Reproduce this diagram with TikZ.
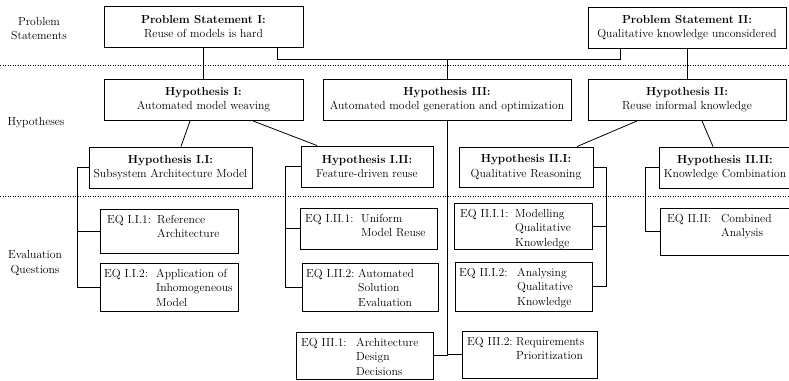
\documentclass[tikz,border=0pt]{standalone}
\usepackage{fontspec}
\usetikzlibrary{calc}

\tikzset{
  box/.style={draw, line width=0.9pt, inner sep=0pt, align=center},
  conn/.style={line width=0.8pt},
  sepline/.style={line width=0.7pt, dash pattern=on 0.9pt off 1.6pt},
  lbl/.style={inner sep=0pt, anchor=base west},
  side/.style={align=center, inner sep=0pt},
}

% framed box given by its corners: name, x1, y1, x2, y2, text
\newcommand\hypnode[6]{%
  \node[box, minimum width={#4-#2}, minimum height={#5-#3}] (#1)
    at ({(#2+#4)/2},{(#3+#5)/2}) {#6};}

% evaluation question: name, x1, y1, x2, y2, id offset, id, text offset, text
\newcommand\eqnode[9]{%
  \node[box, minimum width={#4-#2}, minimum height={#5-#3}] (#1)
    at ({(#2+#4)/2},{(#3+#5)/2}) {};
  \node[lbl] (#1-id) at ({#2+#6},{#3+14}) {#7};
  \node[lbl] (#1-txt) at ({#2+#8},{#3+14})
    {\begin{tabular}[t]{@{}l@{}}#9\end{tabular}};}

\begin{document}
\begin{tikzpicture}[x=1pt, y=-1pt, font=\fontsize{11.65}{14.5}\selectfont]
\path[use as bounding box, clip] (0,0) rectangle (789,380);

% level labels
\node[side] (lps) at (39,28.5) {Problem\\Statements};
\node[side] (lhy) at (36,123) {Hypotheses};
\node[side] (leq) at (35,263) {Evaluation\\Questions};

% level separators
\draw[sepline] (0,65.5) -- (789,65.5);
\draw[sepline] (0,196) -- (789,196);

% problem statements
\hypnode{psI}{104}{6}{303}{47}{\textbf{Problem Statement I:}\\Reuse of models is hard}
\hypnode{psII}{588}{7}{786}{48}{\textbf{Problem Statement II:}\\Qualitative knowledge unconsidered}

% hypotheses
\hypnode{hI}{104}{79}{303}{120.5}{\textbf{Hypothesis I:}\\Automated model weaving}
\hypnode{hIII}{323}{79}{571}{120.5}{\textbf{Hypothesis III:}\\Automated model generation and optimization}
\hypnode{hII}{588}{79}{786}{120.5}{\textbf{Hypothesis II:}\\Reuse informal knowledge}

\hypnode{hIi}{89}{147}{252}{188}{\textbf{Hypothesis I.I:}\\Subsystem Architecture Model}
\hypnode{hIii}{301}{146}{433}{187}{\textbf{Hypothesis I.II:}\\Feature-driven reuse}
\hypnode{hIIi}{459}{147}{593}{187}{\textbf{Hypothesis II.I:}\\Qualitative Reasoning}
\hypnode{hIIii}{659}{147}{791}{188}{\textbf{Hypothesis II.II:}\\Knowledge Combination}

% evaluation questions
\eqnode{eIi1}{100}{209}{238}{253}{7}{EQ I.I.1:}{57}{Reference\\Architecture}
\eqnode{eIi2}{100}{263}{238}{311}{4}{EQ I.I.2:}{56}{Application of\\Inhomogeneous\\Model}
\eqnode{eIii1}{300}{208}{437}{249}{5}{EQ I.II.1:}{61}{Uniform\\Model Reuse}
\eqnode{eIii2}{302}{263}{438}{311}{4}{EQ I.II.2:}{56}{Automated\\Solution\\Evaluation}
\eqnode{eIIi1}{454}{203}{592}{249}{6}{EQ II.I.1:}{61}{Modelling\\Qualitative\\Knowledge}
\eqnode{eIIi2}{455}{262}{592}{311}{4}{EQ II.I.2:}{62}{Analysing\\Qualitative\\Knowledge}
\eqnode{eIIii}{660}{208}{795}{255}{7}{EQ II.II:}{61}{Combined\\Analysis}
\eqnode{eIIIi}{296}{332}{433}{379}{5}{EQ III.1:}{60}{Architecture\\Design\\Decisions}
\eqnode{eIIIii}{462}{331}{597}{378}{5}{EQ III.2:}{54}{Requirements\\Prioritization}

% problem statements to hypotheses
\coordinate (jL) at (277.5,59);
\coordinate (jR) at (620,59);
\draw[conn] (psI.south) -- (hI.north);
\draw[conn] (psII.south) -- (hII.north);
\draw[conn] (psI.south -| jL) -- (jL) -- (jR) -- (psII.south -| jR);
\draw[conn] (hIII.north) -- (hIII.north |- jL);

% hypotheses to sub-hypotheses
\draw[conn] ([xshift=-13.5pt]hI.south) -- ([xshift=10.5pt]hIi.north);
\draw[conn] ([xshift=49.5pt]hI.south) -- ([xshift=-50pt]hIii.north);
\draw[conn] ([xshift=-50pt]hII.south) -- ([xshift=51pt]hIIi.north);
\draw[conn] ([xshift=15pt]hII.south) -- ([xshift=-12pt]hIIii.north);

% sub-hypotheses to evaluation questions
\draw[conn] (hIi.west) -- ++(-11,0) |- (eIi1.west);
\draw[conn] (hIi.west) -- ++(-11,0) |- (eIi2.west);
\draw[conn] (hIii.west) -- ++(-15,0) |- (eIii1.west);
\draw[conn] (hIii.west) -- ++(-15,0) |- (eIii2.west);
\draw[conn] (hIIi.east) -- ++(13,0) |- (eIIi1.east);
\draw[conn] (hIIi.east) -- ++(13,0) |- (eIIi2.east);
\draw[conn] (hIIii.west) -- ++(-13,0) |- (eIIii.west);
\draw[conn] (hIII.south) |- (eIIIi.east);
\draw[conn] (hIII.south) |- (eIIIii.west);
\end{tikzpicture}
\end{document}
